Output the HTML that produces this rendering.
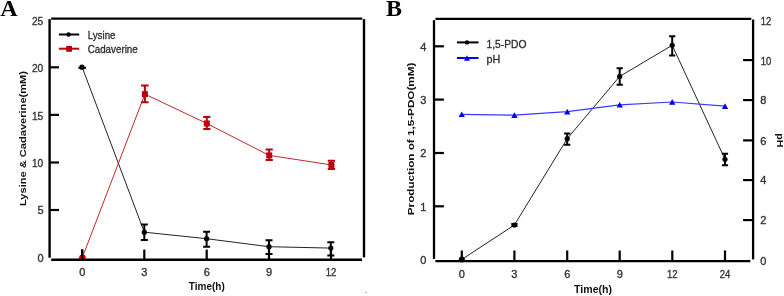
<!DOCTYPE html>
<html><head><meta charset="utf-8">
<style>
html,body{margin:0;padding:0;background:#fff;}
body{width:784px;height:296px;overflow:hidden;}
svg{display:block;will-change:transform;}
text{font-family:"Liberation Sans",sans-serif;}
.t{font-size:11px;fill:#333;stroke:#333;stroke-width:0.35px;}
.ti{font-size:10px;font-weight:bold;fill:#111;}
.lg{font-size:11px;fill:#2a2a2a;stroke:#2a2a2a;stroke-width:0.3px;}
.pl{font-family:"Liberation Serif",serif;font-weight:bold;font-size:24px;fill:#000;}
</style></head>
<body>
<svg width="784" height="296" viewBox="0 0 784 296">
<!-- panel labels -->
<text class="pl" x="0.3" y="16" style="font-family:'Liberation Serif',serif">A</text>
<text class="pl" x="385.9" y="15.5" style="font-family:'Liberation Serif',serif">B</text>

<!-- ================= CHART A ================= -->
<g stroke="#000" stroke-width="2.4" fill="none">
  <line x1="51.2" y1="18.6" x2="362.3" y2="18.6"/>
  <line x1="49.6" y1="19.1" x2="49.6" y2="257.7"/>
  <line x1="364" y1="19.1" x2="364" y2="257.4"/>
  <line x1="51.2" y1="259.7" x2="362" y2="259.7"/>
</g>
<g stroke="#000" stroke-width="2.2">
  <line x1="50" y1="210" x2="59" y2="210"/>
  <line x1="50" y1="162.5" x2="59" y2="162.5"/>
  <line x1="50" y1="114.9" x2="59" y2="114.9"/>
  <line x1="50" y1="67.3" x2="59" y2="67.3"/>
  <line x1="82.3" y1="249.6" x2="82.3" y2="259"/>
  <line x1="144.3" y1="249.6" x2="144.3" y2="259"/>
  <line x1="206.7" y1="249.6" x2="206.7" y2="259"/>
  <line x1="269" y1="249.6" x2="269" y2="259"/>
  <line x1="331" y1="249.6" x2="331" y2="259"/>
</g>
<g class="t" text-anchor="end">
  <text x="43.5" y="262.2">0</text>
  <text x="43.5" y="214.4">5</text>
  <text x="43.2" y="166.9" textLength="11.3" lengthAdjust="spacingAndGlyphs">10</text>
  <text x="43.2" y="119.5" textLength="11.3" lengthAdjust="spacingAndGlyphs">15</text>
  <text x="43.2" y="72" textLength="11.3" lengthAdjust="spacingAndGlyphs">20</text>
  <text x="43.2" y="25" textLength="11.3" lengthAdjust="spacingAndGlyphs">25</text>
</g>
<g class="t" text-anchor="middle">
  <text x="82.3" y="276.2">0</text>
  <text x="144.3" y="276.2">3</text>
  <text x="206.7" y="276.2">6</text>
  <text x="269" y="276.2">9</text>
  <text x="331" y="276.2" textLength="10.6" lengthAdjust="spacingAndGlyphs">12</text>
</g>
<text class="ti" x="188.8" y="289.8" textLength="36" lengthAdjust="spacingAndGlyphs">Time(h)</text>
<text class="ti" transform="translate(25.6,206) rotate(-90)" x="0" y="0" style="font-size:9.5px" textLength="135" lengthAdjust="spacingAndGlyphs">Lysine &amp; Cadaverine(mM)</text>

<!-- Lysine (black) -->
<polyline points="82.2,67.3 144.3,232.2 206.6,238.7 269,246.7 330.8,248.1" fill="none" stroke="#222" stroke-width="1"/>
<!-- Cadaverine (red) -->
<polyline points="82.3,257.6 144.9,94.1 206.8,123.5 269.2,155.4 331.4,164.9" fill="none" stroke="#c0282a" stroke-width="1"/>

<g stroke="#000" stroke-width="2" fill="none">
  <line x1="78.4" y1="67.8" x2="86" y2="67.8"/>
  <path d="M144.3 224.4V239.9M140.8 224.4H147.8M140.8 239.9H147.8"/>
  <path d="M206.6 231.7V246.7M203.1 231.7H210.1M203.1 246.7H210.1"/>
  <path d="M269 240.2V254M265.5 240.2H272.5M265.5 254H272.5"/>
  <path d="M330.8 242.3V255.5M327.3 242.3H334.3M327.3 255.5H334.3"/>
</g>
<g fill="#000">
  <circle cx="81.9" cy="67.2" r="2.6"/>
  <circle cx="144.3" cy="232.2" r="2.6"/>
  <circle cx="206.6" cy="238.7" r="2.6"/>
  <circle cx="269" cy="246.7" r="2.6"/>
  <circle cx="330.8" cy="248.1" r="2.6"/>
</g>
<g stroke="#bb0010" stroke-width="2" fill="none">
  <path d="M144.9 85.4V102.2M141 85.4H148.6M141 102.2H148.6"/>
  <path d="M206.8 117V128.9M203.2 117H210.4M203.2 128.9H210.4"/>
  <path d="M269.2 149.5V160M265.6 149.5H272.8M265.6 160H272.8"/>
  <path d="M331.4 160.8V168.9M327.8 160.8H335M327.8 168.9H335"/>
</g>
<g fill="#bb0010">
  <path d="M78.4 259 L80 255 L85 255 L86.3 259Z"/>
  <rect x="141.9" y="91.1" width="6" height="6"/>
  <rect x="203.8" y="120.5" width="6" height="6"/>
  <rect x="266.2" y="152.4" width="6" height="6"/>
  <rect x="328.4" y="161.9" width="6" height="6"/>
</g>
<!-- re-draw x tick at 0 over red marker -->
<line x1="82.1" y1="249.4" x2="82.1" y2="259" stroke="#000" stroke-width="2.2"/>

<!-- legend A -->
<line x1="58.9" y1="34.5" x2="79.2" y2="34.5" stroke="#000" stroke-width="2"/>
<circle cx="68.6" cy="34.5" r="2.2" fill="#000"/>
<line x1="58.9" y1="48.7" x2="79.2" y2="48.7" stroke="#bb0010" stroke-width="2"/>
<rect x="66.2" y="46" width="5.8" height="5.8" fill="#bb0010"/>
<text class="lg" x="87.7" y="39.1" textLength="27.8" lengthAdjust="spacingAndGlyphs">Lysine</text>
<text class="lg" x="87.7" y="53.3" textLength="50" lengthAdjust="spacingAndGlyphs">Cadaverine</text>

<!-- small artifact -->
<circle cx="365.9" cy="292.4" r="0.7" fill="#999"/>

<!-- ================= CHART B ================= -->
<g stroke="#000" stroke-width="2.3" fill="none">
  <line x1="435.5" y1="18.8" x2="751.3" y2="18.8"/>
  <line x1="434" y1="20.1" x2="434" y2="258.9"/>
  <line x1="753.1" y1="19.5" x2="753.1" y2="259.4"/>
  <line x1="435.4" y1="261.1" x2="750.3" y2="261.1"/>
</g>
<g stroke="#000" stroke-width="2.2">
  <line x1="434" y1="206.3" x2="443.9" y2="206.3"/>
  <line x1="434" y1="153" x2="443.9" y2="153"/>
  <line x1="434" y1="99.6" x2="443.9" y2="99.6"/>
  <line x1="434" y1="46.3" x2="443.9" y2="46.3"/>
  <line x1="743.1" y1="220.1" x2="753" y2="220.1"/>
  <line x1="743.1" y1="180.1" x2="753" y2="180.1"/>
  <line x1="743.1" y1="140.4" x2="753" y2="140.4"/>
  <line x1="743.1" y1="100.1" x2="753" y2="100.1"/>
  <line x1="743.1" y1="60.1" x2="753" y2="60.1"/>
  <line x1="461.8" y1="250.5" x2="461.8" y2="261"/>
  <line x1="514.4" y1="250.5" x2="514.4" y2="261"/>
  <line x1="567.2" y1="250.5" x2="567.2" y2="261"/>
  <line x1="619.7" y1="250.5" x2="619.7" y2="261"/>
  <line x1="672.3" y1="250.5" x2="672.3" y2="261"/>
  <line x1="725" y1="250.5" x2="725" y2="261"/>
</g>
<g class="t" text-anchor="end">
  <text x="426.3" y="264.3">0</text>
  <text x="426.3" y="210.6">1</text>
  <text x="426.3" y="157.4">2</text>
  <text x="426.3" y="104">3</text>
  <text x="426.3" y="51.2">4</text>
</g>
<g class="t" text-anchor="start">
  <text x="760.2" y="264.6">0</text>
  <text x="760.2" y="224.3">2</text>
  <text x="760.2" y="184.3">4</text>
  <text x="760.2" y="145.3">6</text>
  <text x="760.2" y="104.4">8</text>
  <text x="760.8" y="64.6" textLength="10.6" lengthAdjust="spacingAndGlyphs">10</text>
  <text x="760.8" y="25.1" textLength="10.6" lengthAdjust="spacingAndGlyphs">12</text>
</g>
<g class="t" text-anchor="middle">
  <text x="461.8" y="277.9">0</text>
  <text x="514.4" y="277.9">3</text>
  <text x="567.2" y="277.9">6</text>
  <text x="619.7" y="277.9">9</text>
  <text x="672.3" y="277.9" textLength="10.6" lengthAdjust="spacingAndGlyphs">12</text>
  <text x="725" y="277.9" textLength="10.6" lengthAdjust="spacingAndGlyphs">24</text>
</g>
<text class="ti" x="574.1" y="292.8" textLength="38" lengthAdjust="spacingAndGlyphs">Time(h)</text>
<text class="ti" transform="translate(414,215.2) rotate(-90)" x="0" y="0" style="font-size:9.5px" textLength="152.5" lengthAdjust="spacingAndGlyphs">Production of 1,5-PDO(mM)</text>
<text class="ti" transform="translate(776.6,133.2) rotate(90)" x="0" y="0" style="font-size:9.6px" textLength="14.2" lengthAdjust="spacingAndGlyphs">pH</text>

<!-- PDO line -->
<polyline points="461.7,259.5 514.4,225 567.2,138.7 619.7,76.4 672.2,45.3 725,159.3" fill="none" stroke="#222" stroke-width="1"/>
<!-- pH line -->
<polyline points="461.7,114.3 514.4,115.2 567.2,111.6 619.7,104.8 672.2,102 725,106.1" fill="none" stroke="#3a3aff" stroke-width="1.2"/>

<g stroke="#000" stroke-width="2" fill="none">
  <path d="M514.4 224V226.1M511.3 224H517.5M511.3 226.1H517.5" stroke-width="1.8"/>
  <path d="M567.2 133.5V144.8M564.1 133.5H570.3M564.1 144.8H570.3"/>
  <path d="M619.7 68.3V84.8M616.6 68.3H622.8M616.6 84.8H622.8"/>
  <path d="M672.2 36.2V55.4M669.1 36.2H675.3M669.1 55.4H675.3"/>
  <path d="M725.0 153.7V165.2M721.9 153.7H728.1M721.9 165.2H728.1"/>
</g>
<g fill="#000">
  <circle cx="461.8" cy="259.5" r="3"/>
  <circle cx="514.4" cy="225" r="2.6"/>
  <circle cx="567.2" cy="138.7" r="2.6"/>
  <circle cx="619.7" cy="76.4" r="2.6"/>
  <circle cx="672.2" cy="45.3" r="2.6"/>
  <circle cx="725" cy="159.3" r="2.6"/>
</g>
<g fill="#0000ee">
  <path d="M461.7 111.4L464.9 117.1L458.6 117.1Z"/>
  <path d="M514.4 112.3L517.6 118L511.3 118Z"/>
  <path d="M567.2 108.7L570.4 114.4L564.1 114.4Z"/>
  <path d="M619.7 101.9L622.9 107.6L616.6 107.6Z"/>
  <path d="M672.2 99.1L675.4 104.8L669.1 104.8Z"/>
  <path d="M725 103.2L728.2 108.9L721.9 108.9Z"/>
</g>

<!-- legend B -->
<line x1="456.9" y1="42.4" x2="478.5" y2="42.4" stroke="#000" stroke-width="2"/>
<circle cx="467" cy="42.4" r="2.2" fill="#000"/>
<line x1="456.9" y1="58" x2="478.5" y2="58" stroke="#0000ee" stroke-width="2"/>
<path d="M467 55.2L470 60.8L464 60.8Z" fill="#0000ee"/>
<text class="lg" x="486.5" y="47.8" textLength="40" lengthAdjust="spacingAndGlyphs">1,5-PDO</text>
<text class="lg" x="486.5" y="62.5" textLength="13.8" lengthAdjust="spacingAndGlyphs">pH</text>
</svg>
</body></html>
